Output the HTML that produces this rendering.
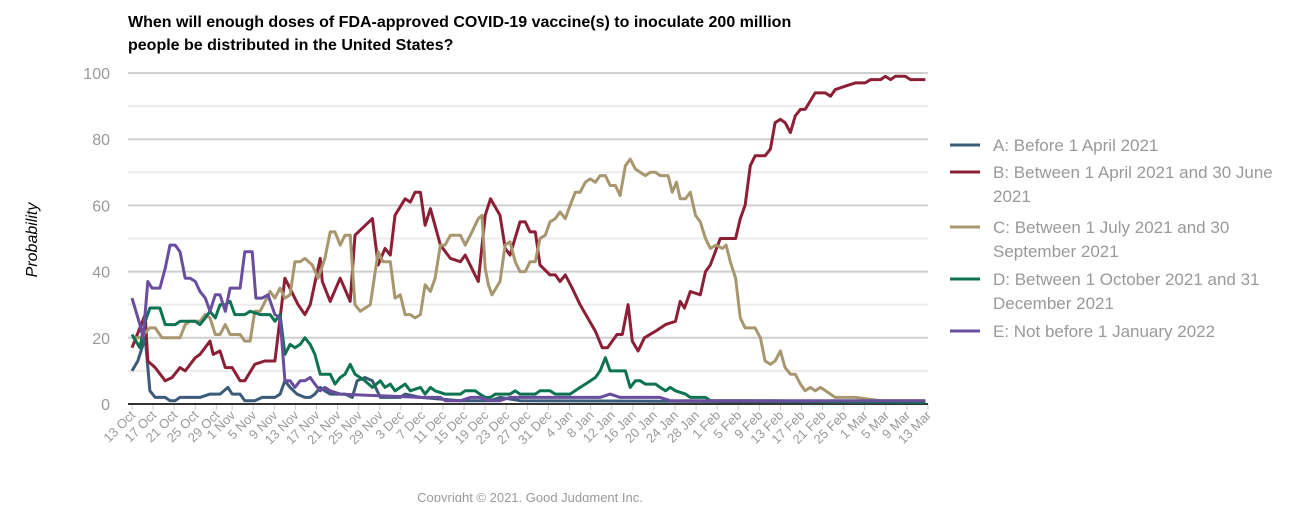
<!DOCTYPE html>
<html><head><meta charset="utf-8"><style>
body{margin:0;background:#fff;font-family:"Liberation Sans",Arial,sans-serif}
svg text{font-family:"Liberation Sans",Arial,sans-serif}
</style></head><body>
<svg id="chart" width="1314" height="502" xmlns="http://www.w3.org/2000/svg">
<text x="128" y="27" font-size="16" font-weight="bold" fill="#000">When will enough doses of FDA-approved COVID-19 vaccine(s) to inoculate 200 million</text>
<text x="128" y="50" font-size="16" font-weight="bold" fill="#000">people be distributed in the United States?</text>
<text transform="translate(37,240) rotate(-90)" text-anchor="middle" font-size="16" font-style="italic" fill="#000">Probability</text>
<g id="grid"></g>
<g id="yticks"></g>
<g id="xticks"></g>
<g id="series"></g>
<g id="legend"></g>
<text x="530" y="502" text-anchor="middle" font-size="13" fill="#999">Copyright © 2021, Good Judgment Inc.</text>
</svg>
<script>
const xLabels=["13 Oct","17 Oct","21 Oct","25 Oct","29 Oct","1 Nov","5 Nov","9 Nov","13 Nov","17 Nov","21 Nov","25 Nov","29 Nov","3 Dec","7 Dec","11 Dec","15 Dec","19 Dec","23 Dec","27 Dec","31 Dec","4 Jan","8 Jan","12 Jan","16 Jan","20 Jan","24 Jan","28 Jan","1 Feb","5 Feb","9 Feb","13 Feb","17 Feb","21 Feb","25 Feb","1 Mar","5 Mar","9 Mar","13 Mar"];
const xLabelDays=[0,4,8,12,16,19,23,27,31,35,39,43,47,51,55,59,63,67,71,75,79,83,87,91,95,99,103,107,111,115,119,123,127,131,135,139,143,147,151];
const yTicks=[0,20,40,60,80,100];
const seriesNames=["A: Before 1 April 2021","B: Between 1 April 2021 and 30 June|2021","C: Between 1 July 2021 and 30|September 2021","D: Between 1 October 2021 and 31|December 2021","E: Not before 1 January 2022"];
const seriesColors=["#3b5b7a","#8c1f36","#a8976e","#0d7352","#6a4d9e"];
const daysA=[0,1.1,2.5,3.4,4.4,6.3,7.2,8.2,9.1,12.9,14.8,16.7,18.2,19,20.5,21.4,23.3,24.7,27.1,28.1,29,30,31.3,32.8,33.8,34.7,35.7,36.6,37.6,40.4,41.8,42.7,44.2,45.6,47.1,50.9,51.8,54.7,62.3,68,69.8,73.6,150.5];
const valsA=[10,13,20,4,2,2,1,1,2,2,3,3,5,3,3,1,1,2,2,3,7,5,3,2,2,3,5,4,3,3,2,7,8,7,2,2,3,2,1,1,2,1,0.5];
const daysB=[0,2.5,3,4.4,6.3,7.6,9.1,10.1,12,12.9,14.8,15.4,16.7,17.7,19,20.5,21.4,23.3,25.2,27.1,29,31.5,32.8,33.8,35.7,36.1,37.6,39.5,41.4,42.3,45.6,46.7,48,49,49.9,51.8,52.8,53.7,54.7,55.6,56.6,58.5,60.4,62.3,63.2,65.7,67,68,69.8,70.8,71.7,73.6,74.6,75.5,76.5,77.4,79.3,80.3,81.2,82.2,83.5,85,87.9,89.2,90.2,92,93,94.1,94.9,96,97.2,99.3,101.2,103.1,104,104.8,105.9,107.8,108.8,109.7,111.6,114.5,115.4,116.3,117.3,118.2,120.1,121.1,122,123,123.9,124.9,125.8,126.8,127.7,129.6,131.5,132.5,133.4,135.3,137.2,139.1,140.1,142,142.9,143.9,144.8,146.7,147.7,149.2,150.5];
const valsB=[17,27,13,11,7,8,11,10,14,15,19,15,16,11,11,7,7,12,13,13,38,30,27,30,44,37,31,38,31,51,56,42,47,45,57,62,61,64,64,54,59,48,44,43,45,37,57,62,57,47,45,55,55,52,52,42,39,39,37,39,35,30,22,17,17,21,21,30,19,16,20,22,24,25,31,29,34,33,40,42,50,50,56,60,72,75,75,77,85,86,85,82,87,89,89,94,94,93,95,96,97,97,98,98,99,98,99,99,98,98,98];
const daysC=[0,1.5,3.4,4.4,5.7,8.2,9.1,10.1,11,12.9,13.9,14.8,15.8,16.7,17.7,18.6,20.5,21.4,22.4,23.3,24.3,26.2,27.1,28.1,29,30,30.9,31.9,32.8,34.2,35.3,36.6,37.6,38.5,39.5,40.4,41.4,42.3,43.3,45.2,46.7,47.6,49,49.9,50.9,51.8,52.8,53.7,54.7,55.6,56.6,57.5,58.5,59.4,60.4,62.3,63.2,64.2,65.7,66.4,67,67.6,68.3,69.8,70.8,71.7,72.7,73.6,74.6,75.5,76.5,77.4,78.4,79.3,80.3,81.2,82.2,83.1,84.1,85,86,86.9,87.9,88.8,89.8,90.7,91.7,92.6,93.6,94.5,95.5,96.4,97.4,98.3,99.3,100.2,101.7,102.5,103.3,104,105,105.9,106.9,107.8,108.8,109.7,110.8,112,112.7,113.5,114.5,115.4,116.3,118.2,119.2,120.1,121.1,122,123,123.9,124.9,125.8,126.8,127.7,128.7,129.6,130.6,132.5,133.4,137.2,142,150.5];
const valsC=[20,20,23,23,20,20,20,24,25,25,27,26,21,21,24,21,21,19,19,28,28,34,32,35,32,33,43,43,44,42,38,44,52,52,48,51,51,30,28,30,46,43,43,32,33,27,27,26,27,36,34,38,48,48,51,51,48,51,56,57,41,36,33,37,48,49,43,40,40,43,43,50,51,55,56,58,56,60,64,64,67,68,67,69,69,66,66,63,72,74,71,70,69,70,70,69,69,64,67,62,62,64,57,55,50,47,48,47,48,43,38,26,23,23,20,13,12,13,16,11,9,9,6,4,5,4,5,3,2,2,1,1];
const daysD=[0,1.5,2.5,3.4,5.3,6.3,8.2,9.1,12,12.9,13.9,14.8,15.8,16.7,17.7,18.6,19.5,21.4,22.4,24.3,26.2,27.1,28.1,29,30,30.9,31.9,32.8,33.8,34.7,35.7,37.6,38.5,39.5,40.4,41.4,42.3,44.2,45.6,47.1,48,49,49.9,50.9,51.8,52.8,54.7,55.6,56.6,57.5,59.4,62.3,63.2,65.1,66,67,68,68.9,71.7,72.7,73.6,76.5,77.4,79.3,80.3,83.1,85,86,87.9,88.8,89.8,90.7,93.6,94.5,95.5,96.4,97.4,99.3,100.2,101.2,102.1,103.1,105,105.9,108.8,109.7,117.3,150.5];
const valsD=[21,17,25,29,29,24,24,25,25,24,26,28,26,30,30,31,27,27,28,27,27,25,27,15,18,17,18,20,18,15,9,9,6,8,9,12,9,7,5,7,5,6,4,5,6,4,5,3,5,4,3,3,4,4,3,2,2,3,3,4,3,3,4,4,3,3,5,6,8,10,14,10,10,5,7,7,6,6,5,4,5,4,3,2,2,1,1,0.5];
const daysE=[0,1.5,2.1,3,3.8,5.3,6.3,7.2,8.2,9.1,10.1,11,12,12.9,13.9,14.8,15.8,16.7,17.7,18.6,20.5,21.4,22.8,23.5,24.7,25.8,27.1,28.1,29,30,30.9,31.9,32.8,33.8,34.7,35.7,36.6,37.6,39.5,54.7,58.5,59.4,62.3,64.2,66,68,69.8,71.7,88.8,90.7,92.6,100.2,102.1,150.5];
const valsE=[32,24,20,37,35,35,41,48,48,46,38,38,37,34,32,28,33,33,28,35,35,46,46,32,32,33,27,26,7,7,5,7,7,8,6,4,5,4,3,2,2,1,1,2,2,1,1,2,2,3,2,2,1,1];
const seriesDays=[daysA,daysB,daysC,daysD,daysE];
const seriesVals=[valsA,valsB,valsC,valsD,valsE];

const NS="http://www.w3.org/2000/svg";
const X0=132,X1=928,Y0=404,Y1=73,DMAX=151;
function xs(d){return X0+d*(X1-X0)/DMAX;}
function ys(v){return Y0-v*(Y0-Y1)/100;}
function mk(t,a,p){const e=document.createElementNS(NS,t);for(const k in a)e.setAttribute(k,a[k]);p.appendChild(e);return e;}
const grid=document.getElementById('grid');
for(let v=10;v<=100;v+=10){
 const l=mk('line',{x1:128,x2:X1,y1:ys(v),y2:ys(v),stroke:v%20===0?'#cfcfcf':'#ececec','stroke-width':2},grid);
 
 
}
const base=mk('line',{x1:128,x2:X1,y1:Y0,y2:Y0,stroke:'#333','stroke-width':2},grid);


const yt=document.getElementById('yticks');
yTicks.forEach(v=>{const t=mk('text',{x:110,y:ys(v)+6,'text-anchor':'end','font-size':16,fill:'#999'},yt);t.textContent=v;
 
 });
const xt=document.getElementById('xticks');
xLabels.forEach((s,i)=>{const x=xs(xLabelDays[i]);
 const tk=mk('line',{x1:x,x2:x,y1:Y0+1,y2:Y0+6,stroke:'#ccc'},xt);
 
 
 const t=mk('text',{transform:`translate(${x+4},${Y0+12}) rotate(-45)`,'text-anchor':'end','font-size':13,fill:'#999'},xt);t.textContent=s;
 
 });
const sg=document.getElementById('series');
seriesVals.forEach((vals,i)=>{const d=vals.map((v,j)=>(j?'L':'M')+xs(seriesDays[i][j]).toFixed(1)+' '+ys(v).toFixed(1)).join(' ');
 const p=mk('path',{d:d,fill:'none',stroke:seriesColors[i],'stroke-width':3,'stroke-linejoin':'round'},sg);
 
 });
const lg=document.getElementById('legend');
const ly=[145,172,227,279,331];
seriesNames.forEach((n,i)=>{const g=mk('g',{},lg);
 
 
 mk('line',{x1:950,x2:980,y1:ly[i],y2:ly[i],stroke:seriesColors[i],'stroke-width':3},g);
 n.split('|').forEach((ln,k)=>{const t=mk('text',{x:993,y:ly[i]+6+k*24,'font-size':17,fill:'#999'},g);t.textContent=ln;});});
</script>
</body></html>
